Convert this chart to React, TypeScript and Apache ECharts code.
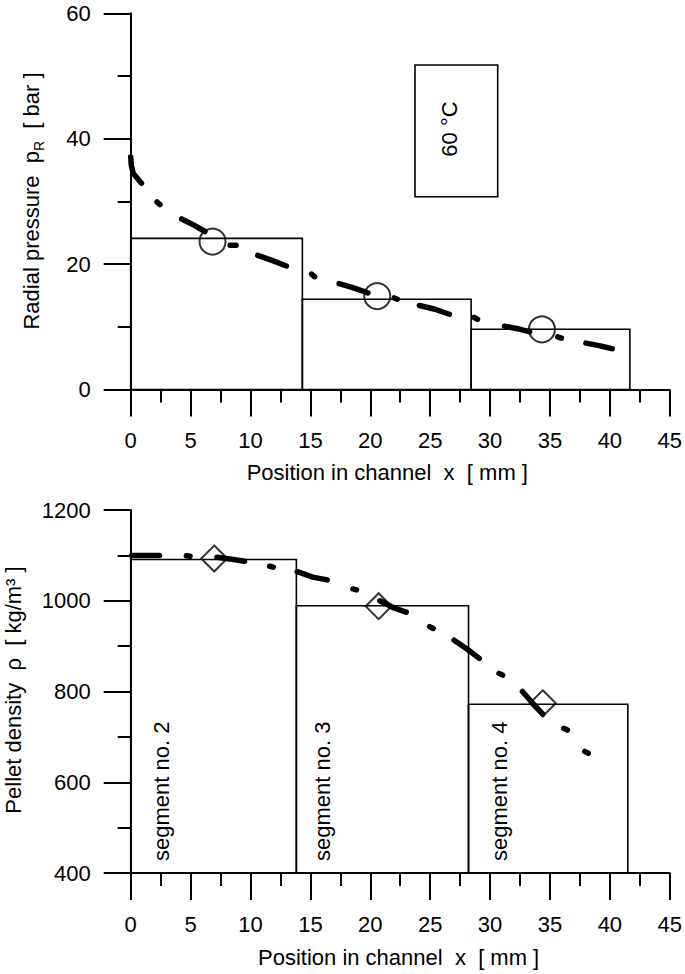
import React, { useEffect, useRef } from "react";
import * as echarts from "echarts";

// ---- Data ----
// Radial pressure traces (x mm, p bar); each inner list is one measured dash/dot
const pressureTraces: [number, number][][] = [
  [[0, 37.1], [0.05, 35.8], [0.2, 34.5], [0.55, 33.7], [0.9, 32.9]],
  [[2.2, 29.9], [2.45, 29.5]],
  [[4.25, 27.2], [5.2, 26.3], [6.2, 25.2]],
  [[8.3, 23.0], [8.8, 23.0]],
  [[10.6, 21.4], [11.8, 20.6], [13.0, 19.7]],
  [[15.1, 18.4], [15.35, 18.0]],
  [[17.4, 16.9], [18.6, 16.2], [19.8, 15.4]],
  [[22.0, 14.6], [22.25, 14.4]],
  [[24.1, 13.4], [25.4, 12.8], [26.6, 12.0]],
  [[28.65, 11.5], [28.95, 11.2]],
  [[31.2, 10.1], [32.3, 9.7], [33.3, 9.2]],
  [[35.65, 8.4], [35.95, 8.2]],
  [[38.0, 7.4], [39.1, 7.0], [40.2, 6.5]],
];
const pressureMeans: [number, number][] = [[6.83, 23.6], [20.58, 14.9], [34.33, 9.6]];
// segment boxes: [xStart, xEnd, value]
const pressureBoxes: [number, number, number][] = [[0, 14.33, 24.1], [14.33, 28.42, 14.4], [28.42, 41.67, 9.6]];

// Pellet density traces (x mm, rho kg/m3)
const densityTraces: [number, number][][] = [
  [[0.08, 1100], [2.4, 1100]],
  [[4.65, 1099], [4.95, 1098]],
  [[7.2, 1096], [8.3, 1092], [9.5, 1087]],
  [[11.6, 1076], [11.9, 1074]],
  [[13.9, 1064], [15.2, 1052], [16.4, 1046]],
  [[18.55, 1026], [18.85, 1024]],
  [[20.8, 1000], [21.9, 985], [23.0, 975]],
  [[24.95, 943], [25.25, 939]],
  [[27.0, 913], [28.1, 893], [29.1, 873]],
  [[30.75, 840], [31.05, 836]],
  [[32.7, 800], [33.6, 773], [34.4, 750]],
  [[36.15, 719], [36.45, 715]],
  [[37.9, 668], [38.2, 664]],
];
const densityMeans: [number, number][] = [[6.97, 1093], [20.7, 988], [34.4, 774]];
const densityBoxes: [number, number, number][] = [[0, 13.83, 1091], [13.83, 28.2, 989], [28.2, 41.5, 772]];
const segmentLabels = ["segment no. 2", "segment no. 3", "segment no. 4"];

const xTitle = "Position in channel  x  [ mm ]";
const FONT = "'Liberation Sans', Arial, sans-serif";

export default function App() {
  const ref = useRef<HTMLDivElement>(null);
  useEffect(() => {
    if (!ref.current) return;
    const chart = echarts.init(ref.current, null, { renderer: "svg" });

    const axisCommon = {
      axisLine: { show: true, lineStyle: { color: "#000", width: 2 } },
      axisTick: { show: true, inside: false, length: 27, lineStyle: { color: "#000", width: 2 } },
      minorTick: { show: true, splitNumber: 2, length: 13, lineStyle: { color: "#000", width: 2 } },
      splitLine: { show: false },
      axisLabel: {
        color: "#000",
        fontSize: 22,
        fontFamily: FONT,
        margin: 40,
        formatter: (v: number) => String(v),
      },
    };

    const boxSeries = (boxes: [number, number, number][], idx: number, base: number) => ({
      type: "custom",
      xAxisIndex: idx,
      yAxisIndex: idx,
      silent: true,
      z: 1,
      data: boxes,
      encode: { x: [0, 1], y: 2 },
      renderItem: (_p: any, api: any) => {
        const a = api.coord([api.value(0), api.value(2)]);
        const b = api.coord([api.value(1), base]);
        return {
          type: "rect",
          shape: { x: a[0], y: a[1], width: b[0] - a[0], height: b[1] - a[1] },
          style: { fill: "none", stroke: "#000", lineWidth: 1.6 },
        };
      },
    });

    const traceSeries = (traces: [number, number][][], idx: number) =>
      traces.map((t) => ({
        type: "line",
        xAxisIndex: idx,
        yAxisIndex: idx,
        data: t,
        symbol: "none",
        silent: true,
        z: 3,
        lineStyle: { color: "#000", width: 5.5, cap: "round", join: "round" },
      }));

    const meanSeries = (pts: [number, number][], idx: number, symbol: string) => ({
      type: "scatter",
      xAxisIndex: idx,
      yAxisIndex: idx,
      data: pts,
      symbol,
      symbolSize: 26,
      silent: true,
      z: 4,
      itemStyle: { color: "rgba(0,0,0,0)", borderColor: "#000", borderWidth: 2 },
    });

    const textBase = { fill: "#000", fontFamily: FONT, fontSize: 22 };

    chart.setOption({
      animation: false,
      backgroundColor: "#fff",
      grid: [
        { left: 130.7, right: 14.3, top: 13.3, height: 376.2 },
        { left: 130.7, right: 14.3, top: 510, height: 363 },
      ],
      xAxis: [
        { ...axisCommon, type: "value", gridIndex: 0, min: 0, max: 45, interval: 5 },
        { ...axisCommon, type: "value", gridIndex: 1, min: 0, max: 45, interval: 5 },
      ],
      yAxis: [
        { ...axisCommon, type: "value", gridIndex: 0, min: 0, max: 60, interval: 20 },
        { ...axisCommon, type: "value", gridIndex: 1, min: 400, max: 1200, interval: 200 },
      ],
      series: [
        boxSeries(pressureBoxes, 0, 0),
        boxSeries(densityBoxes, 1, 400),
        ...traceSeries(pressureTraces, 0),
        ...traceSeries(densityTraces, 1),
        meanSeries(pressureMeans, 0, "circle"),
        meanSeries(densityMeans, 1, "diamond"),
      ],
      graphic: [
        {
          type: "text",
          x: 31.7,
          y: 201,
          rotation: Math.PI / 2,
          style: {
            ...textBase,
            text: "Radial pressure  p{s|R}  [ bar ]",
            align: "center",
            verticalAlign: "middle",
            lineHeight: 28,
            rich: { s: { fontSize: 14, lineHeight: 14, verticalAlign: "bottom", fontFamily: FONT, fill: "#000" } },
          },
        },
        {
          type: "text",
          x: 13.3,
          y: 690,
          rotation: Math.PI / 2,
          style: { ...textBase, text: "Pellet density  ρ  [ kg/m³ ]", align: "center", verticalAlign: "middle" },
        },
        {
          type: "text",
          x: 246.7,
          y: 472,
          style: { ...textBase, text: xTitle, align: "left", verticalAlign: "middle" },
        },
        {
          type: "text",
          x: 258,
          y: 957,
          style: { ...textBase, text: xTitle, align: "left", verticalAlign: "middle" },
        },
        {
          type: "rect",
          shape: { x: 415, y: 65, width: 82.7, height: 131.7 },
          style: { fill: "#fff", stroke: "#000", lineWidth: 1.6 },
        },
        {
          type: "text",
          x: 449,
          y: 129,
          rotation: Math.PI / 2,
          style: { ...textBase, text: "60 °C", align: "center", verticalAlign: "middle" },
        },
        ...segmentLabels.map((s, i) => ({
          type: "text",
          x: [161.7, 322, 499][i],
          y: 861,
          rotation: Math.PI / 2,
          style: { ...textBase, text: s, align: "left", verticalAlign: "middle" },
        })),
      ],
    });
    return () => chart.dispose();
  }, []);
  return (
    <div
      ref={ref}
      style={{ position: "absolute", left: 0, top: 0, width: 685, height: 974, background: "#fff" }}
    />
  );
}
